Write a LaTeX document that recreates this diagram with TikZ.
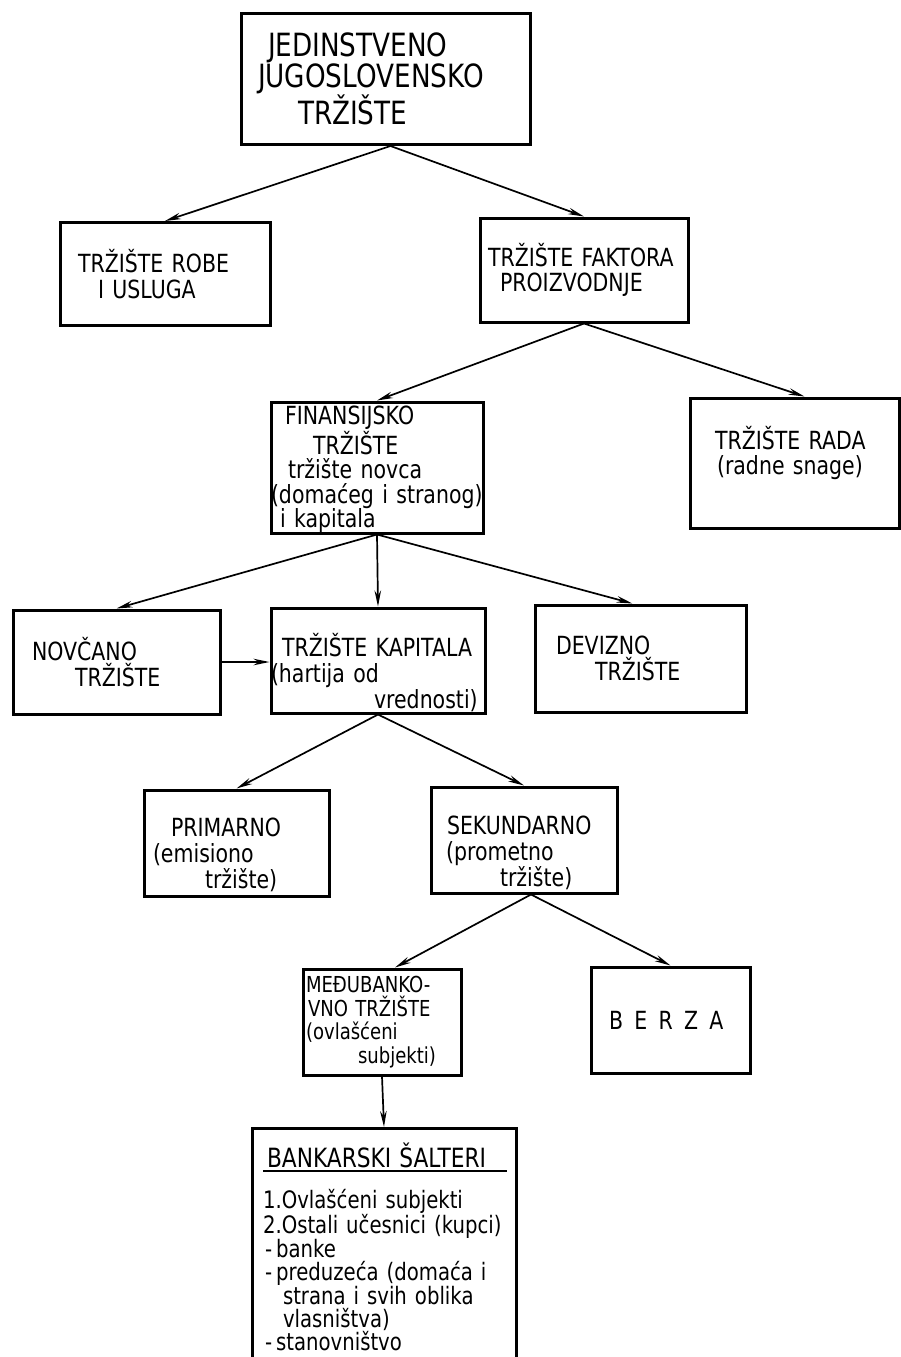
\documentclass[tikz,border=0pt]{standalone}
\usepackage{fontspec}
\setmainfont[FakeStretch=0.82]{DejaVu Sans}
\usetikzlibrary{arrows.meta}

\begin{document}
\begin{tikzpicture}[x=1pt,y=-1pt]
\tikzstyle{every node}=[rectangle,draw,line width=3pt,align=left,inner sep=0pt,font=\fontsize{25}{25.75}\selectfont]
\tikzstyle{strelica}=[line width=1.7pt,-{Stealth[length=16pt,width=6.5pt]}]
\useasboundingbox (0,0) rectangle (901,1357);
\node[minimum width=289,minimum height=131,text width=255,font=\fontsize{32}{26.5}\selectfont] (jjt) at (385.5,79) {\hspace*{10pt}JEDINSTVENO\\JUGOSLOVENSKO\\\hspace*{40pt}TRŽIŠTE};
\node[minimum width=210,minimum height=103,text width=174] (robe) at (165,274) {TRŽIŠTE ROBE\\\hspace*{20pt}I USLUGA};
\node[minimum width=208,minimum height=104,text width=192] (fakt) at (584,270) {TRŽIŠTE FAKTORA\\\hspace*{12pt}PROIZVODNJE};
\node[minimum width=210,minimum height=131,text width=212,font=\fontsize{25}{24.5}\selectfont] (fin) at (377,467.5) {\raisebox{-2pt}[\height][\depth]{\parbox{212pt}{\raggedright\hspace*{14pt}FINANSIJSKO\\\hspace*{42pt}TRŽIŠTE\\\hspace*{17pt}tržište novca\\(domaćeg i stranog)\\\hspace*{9pt}i kapitala}}};
\node[minimum width=209,minimum height=130,text width=159] (rada) at (794.5,463) {\raisebox{10pt}[\height][\depth]{\parbox{159pt}{\raggedright TRŽIŠTE RADA\\\hspace*{2pt}(radne snage)}}};
\node[minimum width=207,minimum height=104,text width=169] (nov) at (116.5,662) {NOVČANO\\\hspace*{43pt}TRŽIŠTE};
\node[minimum width=210,minimum height=105,text width=214] (kap) at (378,660.5) {\raisebox{-12pt}[\height][\depth]{\parbox{214pt}{\raggedright\hspace*{11pt}TRŽIŠTE KAPITALA\\(hartija od\\\hspace*{103pt}vrednosti)}}};
\node[minimum width=211,minimum height=107,text width=169] (dev) at (640.5,658.5) {DEVIZNO\\\hspace*{39pt}TRŽIŠTE};
\node[minimum width=185,minimum height=106,text width=167] (prim) at (236.5,843) {\raisebox{-12pt}[\height][\depth]{\parbox{167pt}{\raggedright\hspace*{18pt}PRIMARNO\\(emisiono\\\hspace*{52pt}tržište)}}};
\node[minimum width=186,minimum height=106,text width=156] (sek) at (524,840) {\raisebox{-13pt}[\height][\depth]{\parbox{156pt}{\raggedright\hspace*{1pt}SEKUNDARNO\\(prometno\\\hspace*{54pt}tržište)}}};
\node[minimum width=158,minimum height=106,text width=152,font=\fontsize{22}{23.5}\selectfont] (medj) at (382,1022) {MEĐUBANKO-\\\hspace*{2pt}VNO TRŽIŠTE\\(ovlašćeni\\\hspace*{52pt}subjekti)};
\node[minimum width=159,minimum height=106,text width=123] (berza) at (670.5,1020) {B\hspace{.45em}E\hspace{.45em}R\hspace{.45em}Z\hspace{.45em}A};
\node[anchor=north,minimum width=264,inner ysep=14pt,text width=242,font=\fontsize{24}{23}\selectfont] (bank) at (384,1127) {\rlap{\rule[-5pt]{244pt}{2.5pt}}\hspace*{4pt}{\fontsize{26.5}{23}\selectfont BANKARSKI ŠALTERI}\\[16pt]1.Ovlašćeni subjekti\\2.Ostali učesnici (kupci)\\\hspace*{2pt}-\,banke\\\hspace*{2pt}-\,preduzeća (domaća i\\\hspace*{20pt}strana i svih oblika\\\hspace*{20pt}vlasništva)\\\hspace*{2pt}-\,stanovništvo};
\draw[strelica] ([xshift=5]jjt.south) -- (robe.north);
\draw[strelica] ([xshift=5]jjt.south) -- (fakt.north);
\draw[strelica] (fakt.south) -- (fin.north);
\draw[strelica] (fakt.south) -- ([xshift=10]rada.north);
\draw[strelica] (fin.south) -- (nov.north);
\draw[strelica] (fin.south) -- (kap.north);
\draw[strelica] (fin.south) -- ([xshift=-8]dev.north);
\draw[strelica] (nov.east) -- (nov.east -| kap.west);
\draw[strelica] (kap.south) -- (prim.north);
\draw[strelica] (kap.south) -- (sek.north);
\draw[strelica] ([xshift=7]sek.south) -- ([xshift=13]medj.north);
\draw[strelica] ([xshift=7]sek.south) -- (berza.north);
\draw[strelica] (medj.south) -- (bank.north);
\end{tikzpicture}
\end{document}
